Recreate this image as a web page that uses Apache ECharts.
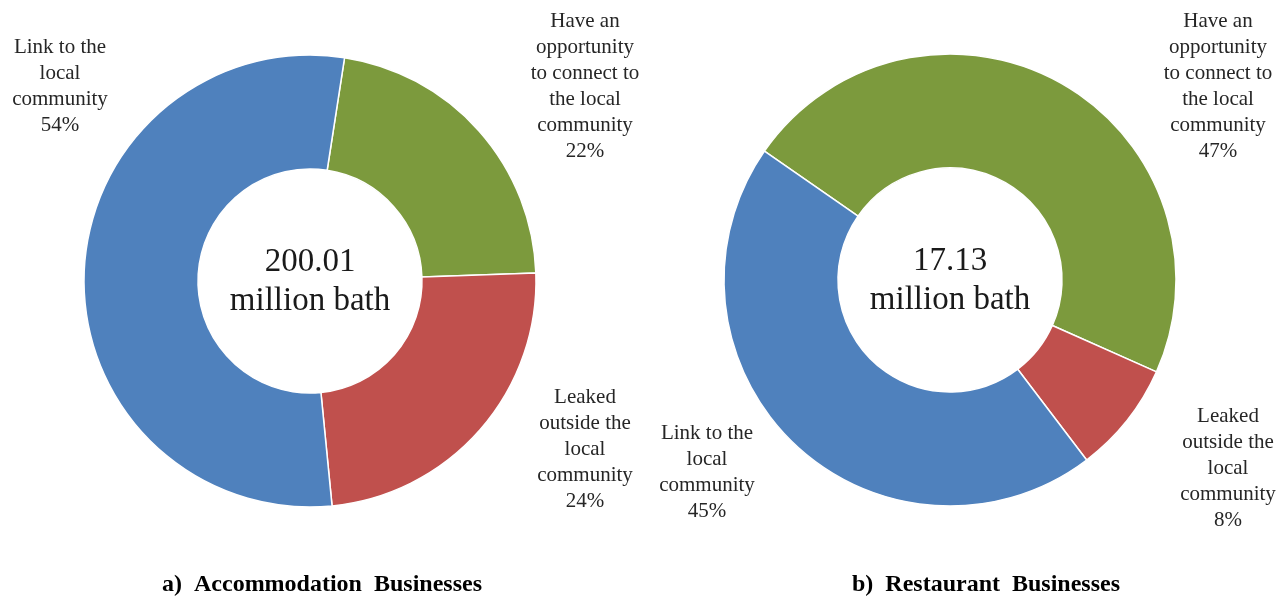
<!DOCTYPE html>
<html>
<head>
<meta charset="utf-8">
<script src="https://cdn.jsdelivr.net/npm/echarts@6/dist/echarts.min.js"></script>
<style>
  html, body { margin: 0; padding: 0; background: #fff; }
  #container { width: 1286px; height: 598px; }
</style>
</head>
<body>
<div id="container"></div>
<script>
// a) Accommodation (clockwise from the green slice)
var accNames = ['Have an\nopportunity\nto connect to\nthe local\ncommunity', 'Leaked\noutside the\nlocal\ncommunity', 'Link to the\nlocal\ncommunity'];
var accValues = [22, 24, 54];
var accTotal = '200.01\nmillion bath';

// b) Restaurant (clockwise from the green slice)
var resNames = ['Have an\nopportunity\nto connect to\nthe local\ncommunity', 'Leaked\noutside the\nlocal\ncommunity', 'Link to the\nlocal\ncommunity'];
var resValues = [47, 8, 45];
var resTotal = '17.13\nmillion bath';

var captions = ['a)  Accommodation  Businesses', 'b)  Restaurant  Businesses'];

var colors = ['#7c9a3d', '#c0504d', '#4f81bd'];
var font = '"Liberation Serif", "Times New Roman", serif';

// label anchor spots (centre x, top y) for each slice
var accLabelPos = [[585, 8], [585, 384], [60, 34]];
var resLabelPos = [[1218, 8], [1228, 403], [707, 420]];

function makePie(names, values, center, startAngle, labelPos) {
    return {
        type: 'pie',
        center: center,
        radius: [112, 226],
        startAngle: startAngle,
        clockwise: true,
        avoidLabelOverlap: false,
        animation: false,
        itemStyle: { borderColor: '#ffffff', borderWidth: 1.5 },
        label: {
            show: true,
            position: 'outside',
            formatter: '{b}\n{c}%',
            fontFamily: font,
            fontSize: 21,
            lineHeight: 26,
            color: '#262626',
            align: 'center'
        },
        labelLine: { show: false },
        labelLayout: function (p) {
            var pos = labelPos[p.dataIndex];
            return { x: pos[0], y: pos[1], align: 'center', verticalAlign: 'top' };
        },
        emphasis: { disabled: true },
        data: names.map(function (n, i) {
            return { name: n, value: values[i], itemStyle: { color: colors[i] } };
        })
    };
}

var option = {
    backgroundColor: '#ffffff',
    series: [
        makePie(accNames, accValues, [310, 281], 81.2, accLabelPos),
        makePie(resNames, resValues, [950, 280], 145.2, resLabelPos)
    ],
    graphic: [
        {
            type: 'text', x: 310, y: 282,
            style: { text: accTotal, fontFamily: font, fontSize: 33, lineHeight: 39, fill: '#1a1a1a', align: 'center', verticalAlign: 'middle' }
        },
        {
            type: 'text', x: 950, y: 281,
            style: { text: resTotal, fontFamily: font, fontSize: 33, lineHeight: 39, fill: '#1a1a1a', align: 'center', verticalAlign: 'middle' }
        },
        {
            type: 'text', x: 322, y: 585,
            style: { text: captions[0], fontFamily: font, fontSize: 24, fontWeight: 'bold', fill: '#000', align: 'center', verticalAlign: 'middle' }
        },
        {
            type: 'text', x: 986, y: 585,
            style: { text: captions[1], fontFamily: font, fontSize: 24, fontWeight: 'bold', fill: '#000', align: 'center', verticalAlign: 'middle' }
        }
    ]
};

var myChart = echarts.init(document.getElementById('container'));
myChart.setOption(option);
</script>
</body>
</html>
